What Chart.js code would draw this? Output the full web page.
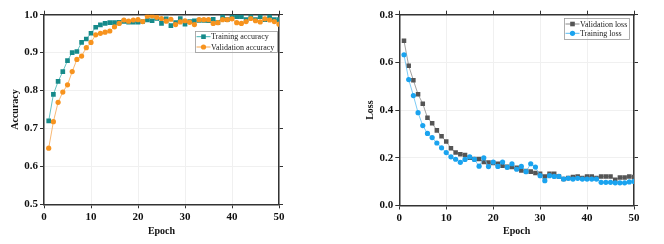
<!DOCTYPE html>
<html>
<head>
<meta charset="utf-8">
<script src="https://cdn.jsdelivr.net/npm/chart.js@4.4.0/dist/chart.umd.min.js"></script>
<style>
  html, body { margin: 0; padding: 0; background: #fff; }
  #wrap { position: relative; width: 664px; height: 244px; }
  canvas { position: absolute; top: 0; }
</style>
</head>
<body>
<div id="wrap">
  <canvas id="accChart" width="332" height="244" style="left:0"></canvas>
  <canvas id="lossChart" width="332" height="244" style="left:332px"></canvas>
</div>
<script>
const epochs = [1, 2, 3, 4, 5, 6, 7, 8, 9, 10, 11, 12, 13, 14, 15, 16, 17, 18, 19, 20,
  21, 22, 23, 24, 25, 26, 27, 28, 29, 30, 31, 32, 33, 34, 35, 36, 37, 38, 39, 40,
  41, 42, 43, 44, 45, 46, 47, 48, 49, 50]

const trainAcc = [0.720, 0.790, 0.824, 0.850, 0.879, 0.900, 0.903, 0.927, 0.936, 0.951,
  0.967, 0.973, 0.977, 0.979, 0.979, 0.980, 0.982, 0.980, 0.980, 0.980,
  0.982, 0.986, 0.984, 0.990, 0.977, 0.989, 0.971, 0.979, 0.990, 0.975,
  0.982, 0.984, 0.985, 0.985, 0.984, 0.988, 0.979, 0.996, 0.987, 0.995,
  0.995, 0.995, 0.987, 0.996, 0.987, 0.995, 0.987, 0.996, 0.987, 0.987]

const valAcc = [0.648, 0.718, 0.769, 0.796, 0.815, 0.850, 0.882, 0.891, 0.913, 0.927,
  0.947, 0.951, 0.954, 0.957, 0.968, 0.977, 0.986, 0.983, 0.986, 0.987,
  0.982, 0.996, 0.997, 0.993, 0.990, 0.983, 0.988, 0.974, 0.981, 0.984,
  0.980, 0.974, 0.987, 0.987, 0.987, 0.977, 0.979, 0.987, 0.987, 0.989,
  0.979, 0.977, 0.982, 0.990, 0.984, 0.981, 0.989, 0.986, 0.982, 0.975]

const valLoss = [0.691, 0.586, 0.525, 0.466, 0.427, 0.368, 0.345, 0.315, 0.290, 0.268,
  0.240, 0.222, 0.215, 0.212, 0.200, 0.195, 0.195, 0.182, 0.180, 0.178,
  0.175, 0.167, 0.162, 0.162, 0.158, 0.147, 0.145, 0.142, 0.136, 0.133,
  0.122, 0.133, 0.133, 0.122, 0.111, 0.115, 0.119, 0.122, 0.115, 0.122,
  0.122, 0.115, 0.122, 0.122, 0.122, 0.108, 0.117, 0.117, 0.122, 0.119]

const trainLoss = [0.632, 0.528, 0.461, 0.389, 0.335, 0.302, 0.285, 0.262, 0.242, 0.222,
  0.204, 0.194, 0.181, 0.193, 0.204, 0.193, 0.165, 0.200, 0.163, 0.182,
  0.164, 0.182, 0.160, 0.175, 0.152, 0.164, 0.142, 0.175, 0.161, 0.125,
  0.104, 0.125, 0.122, 0.122, 0.111, 0.114, 0.111, 0.114, 0.111, 0.111,
  0.111, 0.111, 0.097, 0.097, 0.097, 0.095, 0.095, 0.095, 0.099, 0.101]

const serif = '"Liberation Serif", "Times New Roman", serif'

// legend drawn inside the plot, with a thin frame like the original
const boxLegend = {
  id: 'boxLegend',
  afterDraw(chart, args, opts) {
    const ctx = chart.ctx
    ctx.save()
    ctx.strokeStyle = '#9a9a9a'
    ctx.lineWidth = 0.8
    ctx.strokeRect(opts.x + 0.5, opts.y + 0.5, opts.w, opts.h)
    ctx.font = '8px ' + serif
    ctx.textBaseline = 'middle'
    opts.order.forEach((di, i) => {
      const ds = chart.data.datasets[di]
      const cy = opts.y + opts.first + i * opts.gap
      const x0 = opts.x + 1.5
      ctx.strokeStyle = ds.borderColor
      ctx.lineWidth = 1
      ctx.beginPath()
      ctx.moveTo(x0, cy)
      ctx.lineTo(x0 + 14, cy)
      ctx.stroke()
      ctx.fillStyle = ds.pointBackgroundColor
      if (ds.pointStyle === 'rect') {
        ctx.fillRect(x0 + 7 - 2.3, cy - 2.3, 4.6, 4.6)
      } else {
        ctx.beginPath()
        ctx.arc(x0 + 7, cy, 2.6, 0, Math.PI * 2)
        ctx.fill()
      }
      ctx.fillStyle = '#222'
      ctx.fillText(ds.label, opts.x + 16, cy + 0.5)
    })
    ctx.restore()
  }
}

function makeScales(cfg) {
  const tickFont = { family: serif, size: 11, weight: 'bold' }
  const titleFont = { family: serif, size: 10, weight: 'bold' }
  const border = { color: '#333', width: 1.5 }
  return {
    x: {
      type: 'linear', position: 'bottom', min: 0, max: 50,
      ticks: { stepSize: 10, color: '#111', font: tickFont, padding: 2, maxRotation: 0 },
      grid: { color: '#f0f0f0', tickColor: '#333', tickLength: 4 },
      border: border,
      title: { display: true, text: 'Epoch', color: '#111', font: titleFont, padding: { top: 0, bottom: 7 } },
      afterFit: s => { s.height = cfg.bottomH }
    },
    x2: {
      type: 'linear', position: 'top', min: 0, max: 50,
      ticks: { stepSize: 10, display: false },
      grid: { drawOnChartArea: false, tickColor: '#333', tickLength: 4 },
      border: border,
      afterFit: s => { s.height = cfg.topH }
    },
    y: {
      type: 'linear', position: 'left', min: cfg.yMin, max: cfg.yMax,
      ticks: { stepSize: cfg.yStep, color: '#111', font: tickFont, padding: 2, callback: v => v.toFixed(1) },
      grid: { color: '#f0f0f0', tickColor: '#333', tickLength: 4 },
      border: border,
      title: { display: true, text: cfg.yTitle, color: '#111', font: titleFont, padding: { top: cfg.titlePad, bottom: 0 } },
      afterFit: s => { s.width = cfg.leftW }
    },
    y2: {
      type: 'linear', position: 'right', min: cfg.yMin, max: cfg.yMax,
      ticks: { stepSize: cfg.yStep, display: false },
      grid: { drawOnChartArea: false, tickColor: '#333', tickLength: 4 },
      border: border,
      afterFit: s => { s.width = cfg.rightW }
    }
  }
}

function series(label, values, style, fill, line, r) {
  return {
    label: label,
    data: epochs.map((e, i) => ({ x: e, y: values[i] })),
    borderColor: line,
    borderWidth: 0.8,
    pointStyle: style,
    pointRadius: r,
    pointBackgroundColor: fill,
    pointBorderWidth: 0,
    pointHoverRadius: r,
    tension: 0
  }
}

new Chart(document.getElementById('accChart'), {
  type: 'line',
  data: {
    datasets: [
      series('Validation accuracy', valAcc, 'circle', '#f7931e', '#f6a650', 2.6),
      series('Training accuracy', trainAcc, 'rect', '#168a8a', '#3fb3b3', 3.3)
    ]
  },
  options: {
    responsive: false,
    animation: false,
    layout: { padding: 0 },
    scales: makeScales({ yMin: 0.5, yMax: 1.0, yStep: 0.1, yTitle: 'Accuracy', titlePad: 9,
      leftW: 44, rightW: 53, topH: 14.7, bottomH: 39.7 }),
    plugins: {
      legend: { display: false },
      tooltip: { enabled: false },
      boxLegend: { x: 195, y: 31, w: 82, h: 21, first: 5.7, gap: 10.3, order: [1, 0] }
    }
  },
  plugins: [boxLegend]
})

new Chart(document.getElementById('lossChart'), {
  type: 'line',
  data: {
    datasets: [
      series('Training loss', trainLoss, 'circle', '#1aa3ef', '#5bbcf2', 2.6),
      series('Validation loss', valLoss, 'rect', '#555555', '#8a8a8a', 3.2)
    ]
  },
  options: {
    responsive: false,
    animation: false,
    layout: { padding: 0 },
    scales: makeScales({ yMin: 0, yMax: 0.8, yStep: 0.2, yTitle: 'Loss', titlePad: 32,
      leftW: 67.3, rightW: 30, topH: 14.7, bottomH: 38.5 }),
    plugins: {
      legend: { display: false },
      tooltip: { enabled: false },
      boxLegend: { x: 232, y: 18, w: 65, h: 21, first: 6, gap: 9.3, order: [1, 0] }
    }
  },
  plugins: [boxLegend]
})
</script>
</body>
</html>
